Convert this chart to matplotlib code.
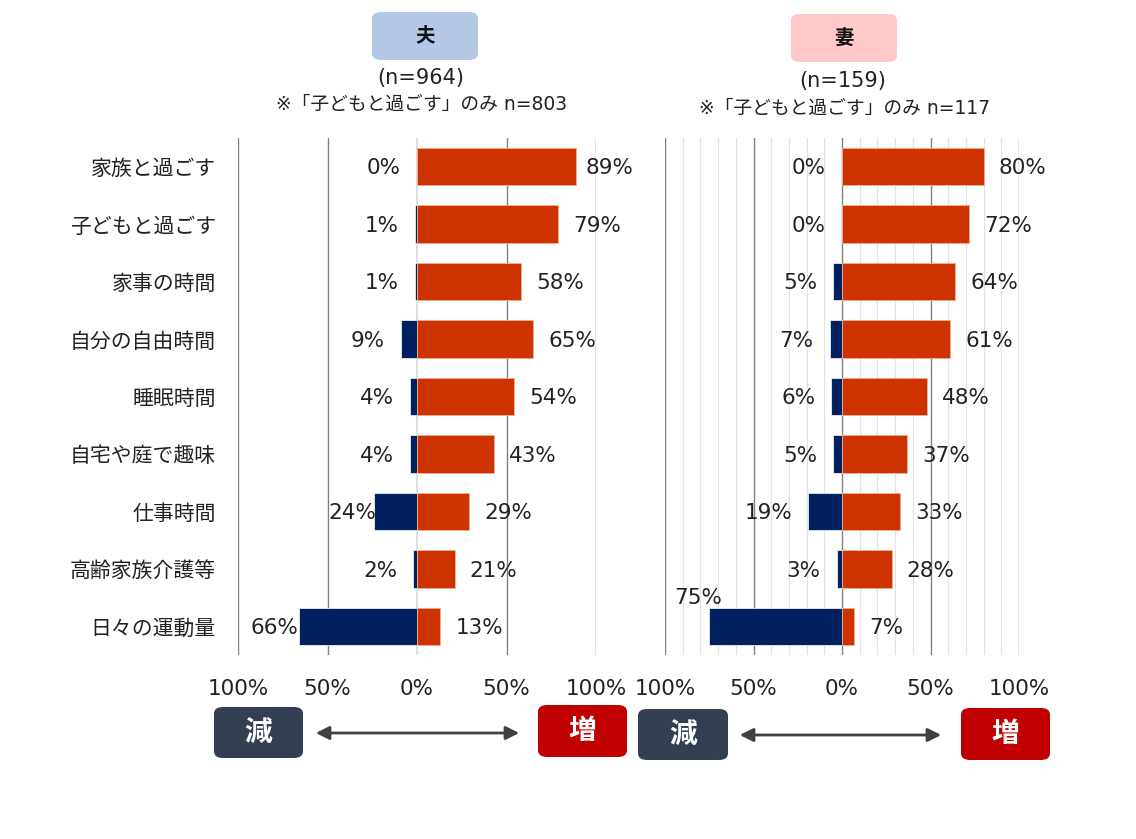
import matplotlib
matplotlib.use("Agg")
import matplotlib.pyplot as plt
from matplotlib.patches import FancyBboxPatch, FancyArrowPatch

plt.rcParams['font.family'] = ['DejaVu Sans', 'Noto Sans CJK JP']

categories = ["家族と過ごす", "子どもと過ごす", "家事の時間", "自分の自由時間", "睡眠時間",
              "自宅や庭で趣味", "仕事時間", "高齢家族介護等", "日々の運動量"]
husband_dec = [0, 1, 1, 9, 4, 4, 24, 2, 66]
husband_inc = [89, 79, 58, 65, 54, 43, 29, 21, 13]
wife_dec = [0, 0, 5, 7, 6, 5, 19, 3, 75]
wife_inc = [80, 72, 64, 61, 48, 37, 33, 28, 7]
tick_vals = [-100, -50, 0, 50, 100]
tick_labels = ["100%", "50%", "0%", "50%", "100%"]

NAVY = "#002060"
ORANGE = "#cc3300"
W, H = 1136, 839
NUM_FS = 15.5

fig = plt.figure(figsize=(W / 100, H / 100), dpi=100)


def fx(px):
    return px / W


def fy(py):
    return 1 - py / H


ax_top, ax_bot = 138, 655
axL = fig.add_axes([fx(238), fy(ax_bot), fx(596) - fx(238), (ax_bot - ax_top) / H])
axR = fig.add_axes([fx(665), fy(ax_bot), fx(1019) - fx(665), (ax_bot - ax_top) / H])

# manual label placement overrides: (x, y-offset)
left_neg_override = {6: (-22.5, 0.0), 8: (-66.0, 0.0)}
right_neg_override = {8: (-68.0, -0.52)}

for ax, dec, inc, neg_over, panel in [(axL, husband_dec, husband_inc, left_neg_override, 'L'),
                                      (axR, wife_dec, wife_inc, right_neg_override, 'R')]:
    n = len(categories)
    ys = list(range(n))
    ax.set_xlim(-100, 100)
    ax.set_ylim(n - 0.5, -0.5)
    if panel == 'R':
        for v in range(-90, 100, 10):
            if v % 50 != 0:
                ax.axvline(v, color="#e3e3e3", lw=0.9, zorder=0)
        for v in tick_vals:
            ax.axvline(v, color="#808080", lw=1.0, zorder=1)
    else:
        for v in tick_vals:
            if v == 0:
                ax.axvline(v, color="#d9d9d9", lw=1.2, zorder=1)
            else:
                ax.axvline(v, color="#808080", lw=1.0, zorder=1)
    ax.barh(ys, [-d for d in dec], height=0.65, color=NAVY, edgecolor="white", lw=0.5, zorder=3)
    ax.barh(ys, inc, height=0.65, color=ORANGE, edgecolor="#f0b090", lw=0.6, zorder=3)
    for i, (d, p) in enumerate(zip(dec, inc)):
        if i in neg_over:
            xx, dy = neg_over[i]
        else:
            xx, dy = -d - 9, 0.0
        ax.text(xx, i + dy + 0.03, f"{d}%", ha='right', va='center', fontsize=NUM_FS, color="#222222", zorder=5)
        ax.text(min(p + 8.5, 94), i + 0.03, f"{p}%", ha='left', va='center', fontsize=NUM_FS, color="#222222", zorder=5)
    ax.set_xticks(tick_vals)
    ax.set_xticklabels(tick_labels, fontsize=NUM_FS, color="#222222")
    ax.tick_params(axis='x', length=0, pad=17)
    ax.tick_params(axis='y', length=0)
    for s in ax.spines.values():
        s.set_visible(False)
    if panel == 'L':
        ax.set_yticks(ys)
        ax.set_yticklabels(categories, fontsize=15, color="#222222", family='Noto Sans CJK JP')
        ax.tick_params(axis='y', pad=16)
    else:
        ax.set_yticks([])


def box(x0, y0, x1, y1, color, text, txtcolor, fs):
    p = FancyBboxPatch((fx(x0), fy(y1)), fx(x1) - fx(x0), fy(y0) - fy(y1),
                       boxstyle="round,pad=0,rounding_size=0.008",
                       transform=fig.transFigure, facecolor=color, edgecolor='none')
    fig.patches.append(p)
    fig.text(fx((x0 + x1) / 2), fy((y0 + y1) / 2), text, ha='center', va='center',
             fontsize=fs, fontweight='bold', color=txtcolor, family='Noto Sans CJK JP')


box(372, 12, 478, 60, "#b4c7e7", "夫", "#111111", 14)
box(791, 14, 897, 62, "#ffc9c9", "妻", "#111111", 14)
fig.text(fx(421), fy(78), "(n=964)", ha='center', va='center', fontsize=15, color="#222222")
fig.text(fx(422), fy(104), "※「子どもと過ごす」のみ n=803", ha='center', va='center', fontsize=13.5,
         color="#222222", family=['DejaVu Sans', 'Noto Sans CJK JP'])
fig.text(fx(843), fy(81), "(n=159)", ha='center', va='center', fontsize=15, color="#222222")
fig.text(fx(845), fy(108), "※「子どもと過ごす」のみ n=117", ha='center', va='center', fontsize=13.5,
         color="#222222", family=['DejaVu Sans', 'Noto Sans CJK JP'])

box(214, 707, 303, 758, "#333f50", "減", "white", 20)
box(538, 705, 627, 757, "#c00000", "増", "white", 20)
box(638, 709, 728, 760, "#333f50", "減", "white", 20)
box(961, 708, 1050, 760, "#c00000", "増", "white", 20)
for x0, x1, yy in [(313, 522, 733), (737, 944, 735)]:
    a = FancyArrowPatch((fx(x0), fy(yy)), (fx(x1), fy(yy)), transform=fig.transFigure,
                        arrowstyle='<|-|>', mutation_scale=20, color="#404040", lw=2)
    fig.patches.append(a)

fig.savefig("out.png", dpi=100)
